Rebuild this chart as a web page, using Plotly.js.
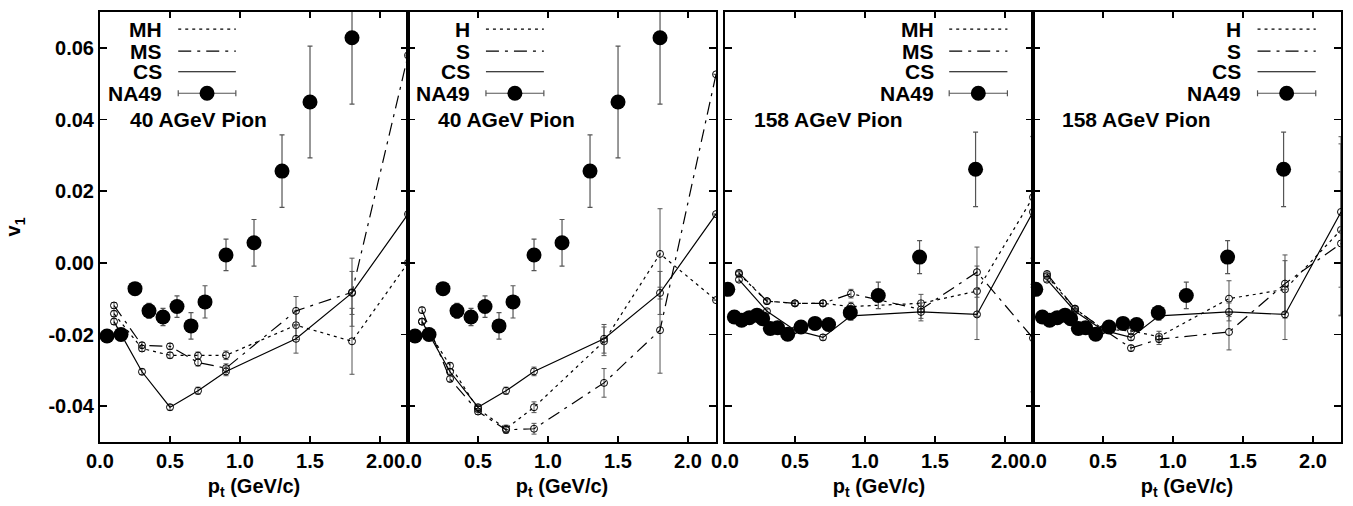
<!DOCTYPE html>
<html><head><meta charset="utf-8">
<script src="https://cdn.plot.ly/plotly-3.0.1.min.js"></script>
<style>html,body{margin:0;padding:0;background:#fff}#plot{width:1353px;height:506px}</style>
</head><body><div id="plot"></div>
<script>
// ---------- data ----------
const ptModel = [0.1, 0.3, 0.5, 0.7, 0.9, 1.4, 1.8, 2.2];

// 40 AGeV models
const MH40 = [-0.0142, -0.0239, -0.0258, -0.0259, -0.0258, -0.0174, -0.0219, 0.0000];
const MS40 = [-0.0119, -0.0230, -0.0233, -0.0278, -0.0294, -0.0134, -0.0082, 0.0579];
const CS40 = [-0.0164, -0.0304, -0.0403, -0.0357, -0.0303, -0.0212, -0.0084, 0.0136];
const H40  = [-0.0164, -0.0287, -0.0408, -0.0463, -0.0403, -0.0219, 0.0025, -0.0104];
const S40  = [-0.0132, -0.0324, -0.0415, -0.0466, -0.0463, -0.0335, -0.0188, 0.0526];
const errMH40 = [0.0008, 0.0008, 0.0008, 0.0010, 0.0012, 0.0040, 0.0092, 0];
const errMS40 = [0.0008, 0.0008, 0.0008, 0.0010, 0.0012, 0.0040, 0.0095, 0];
const errCS40 = [0.0008, 0.0008, 0.0008, 0.0010, 0.0012, 0.0040, 0.0060, 0];
const errH40  = [0.0008, 0.0008, 0.0008, 0.0010, 0.0015, 0.0040, 0.0126, 0];
const errS40  = [0.0008, 0.0008, 0.0008, 0.0010, 0.0015, 0.0040, 0.0120, 0];

// 158 AGeV models
const MH158 = [-0.0031, -0.0107, -0.0113, -0.0113, -0.0122, -0.0113, -0.0079, 0.0183];
const MS158 = [-0.0028, -0.0107, -0.0113, -0.0113, -0.0086, -0.0130, -0.0026, -0.0210];
const CS158 = [-0.0047, -0.0135, -0.0188, -0.0208, -0.0148, -0.0137, -0.0144, 0.0142];
const H158  = [-0.0037, -0.0128, -0.0185, -0.0190, -0.0206, -0.0100, -0.0074, 0.0092];
const S158  = [-0.0031, -0.0128, -0.0185, -0.0238, -0.0213, -0.0193, -0.0058, 0.0054];
const errMH158 = [0.0006, 0.0006, 0.0006, 0.0008, 0.0012, 0.0025, 0.0070, 0.0170];
const errMS158 = [0.0006, 0.0006, 0.0006, 0.0008, 0.0012, 0.0025, 0.0070, 0.0150];
const errCS158 = [0.0006, 0.0006, 0.0006, 0.0008, 0.0012, 0.0025, 0.0070, 0.0210];
const errH158  = [0.0006, 0.0006, 0.0006, 0.0008, 0.0015, 0.0050, 0.0080, 0.0240];
const errS158  = [0.0006, 0.0006, 0.0006, 0.0008, 0.0015, 0.0050, 0.0080, 0.0200];

// NA49 data
const na40Pt  = [0.05, 0.15, 0.25, 0.35, 0.45, 0.55, 0.65, 0.75, 0.9, 1.1, 1.3, 1.5, 1.8];
const na40V1  = [-0.0204, -0.0200, -0.0072, -0.0134, -0.0151, -0.0122, -0.0176, -0.0109, 0.0022, 0.0056, 0.0256, 0.0449, 0.0628];
const na40Err = [0.0015, 0.0012, 0.0012, 0.0021, 0.0024, 0.0030, 0.0037, 0.0045, 0.0044, 0.0065, 0.0101, 0.0156, 0.0185];

const na158Pt  = [0.02, 0.067, 0.119, 0.174, 0.229, 0.269, 0.324, 0.376, 0.448, 0.543, 0.643, 0.74, 0.895, 1.095, 1.39, 1.79];
const na158V1  = [-0.0074, -0.0151, -0.0160, -0.0153, -0.0146, -0.0156, -0.0183, -0.0181, -0.0199, -0.0179, -0.0169, -0.0172, -0.0139, -0.0091, 0.0016, 0.0261];
const na158Err = [0.0010, 0.0008, 0.0008, 0.0008, 0.0008, 0.0008, 0.0008, 0.0008, 0.0008, 0.0010, 0.0012, 0.0015, 0.0020, 0.0037, 0.0046, 0.0104];

const xTickVals = [0, 0.5, 1.0, 1.5, 2.0];
const xTickText = ['0.0', '0.5', '1.0', '1.5', '2.0'];
const yTickVals = [-0.04, -0.02, 0.0, 0.02, 0.04, 0.06];
const yTickText = ['-0.04', '-0.02', '0.00', '0.02', '0.04', '0.06'];

const panelNames = [
  ['MH', 'MS', 'CS', 'NA49'],
  ['H', 'S', 'CS', 'NA49'],
  ['MH', 'MS', 'CS', 'NA49'],
  ['H', 'S', 'CS', 'NA49']
];
const panelLabels = ['40 AGeV Pion', '40 AGeV Pion', '158 AGeV Pion', '158 AGeV Pion'];

// ---------- styles ----------
const DOT = '3px,4px';
const DASHDOT = '13px,6px,3px,6px';
const ERRC = '#555';
const FONT = 'Liberation Sans, Arial, Helvetica, sans-serif';

function modelTrace(y, err, dash, ax) {
  return {
    x: ptModel, y: y, type: 'scatter', mode: 'lines+markers',
    xaxis: 'x' + ax, yaxis: 'y' + ax, showlegend: false, cliponaxis: true,
    line: {color: '#000', width: 1.2, dash: dash},
    marker: {symbol: 'circle-open', size: 7, color: '#000', line: {width: 1, color: '#000'}},
    error_y: {type: 'data', array: err, visible: true, color: ERRC, thickness: 1, width: 2.5}
  };
}
function naTrace(x, y, err, ax) {
  return {
    x: x, y: y, type: 'scatter', mode: 'markers',
    xaxis: 'x' + ax, yaxis: 'y' + ax, showlegend: false,
    marker: {symbol: 'circle', size: 15, color: '#000'},
    error_y: {type: 'data', array: err, visible: true, color: ERRC, thickness: 1.2, width: 2.5}
  };
}

const traces = [
  modelTrace(MH40, errMH40, DOT, ''), modelTrace(MS40, errMS40, DASHDOT, ''), modelTrace(CS40, errCS40, 'solid', ''), naTrace(na40Pt, na40V1, na40Err, ''),
  modelTrace(H40, errH40, DOT, '2'), modelTrace(S40, errS40, DASHDOT, '2'), modelTrace(CS40, errCS40, 'solid', '2'), naTrace(na40Pt, na40V1, na40Err, '2'),
  modelTrace(MH158, errMH158, DOT, '3'), modelTrace(MS158, errMS158, DASHDOT, '3'), modelTrace(CS158, errCS158, 'solid', '3'), naTrace(na158Pt, na158V1, na158Err, '3'),
  modelTrace(H158, errH158, DOT, '4'), modelTrace(S158, errS158, DASHDOT, '4'), modelTrace(CS158, errCS158, 'solid', '4'), naTrace(na158Pt, na158V1, na158Err, '4')
];

const domains = [[0, 0.2482], [0.2482, 0.4964], [0.5036, 0.7518], [0.7518, 1.0]];

function xAxis(i) {
  return {
    domain: domains[i], range: [0, 2.2], anchor: i === 0 ? 'y' : 'y' + (i + 1),
    showline: true, linecolor: '#000', linewidth: 2, mirror: 'ticks',
    ticks: 'inside', ticklen: 6, tickwidth: 1.5, tickcolor: '#000',
    tickvals: xTickVals, ticktext: xTickText, showgrid: false, zeroline: false,
    tickfont: {size: 20, family: FONT, weight: 'bold', color: '#000'},
    title: {text: 'p<sub>t</sub> (GeV/c)', font: {size: 20, family: FONT, weight: 'bold', color: '#000'}, standoff: 8}
  };
}
function yAxis(i) {
  const ax = {
    domain: [0, 1], range: [-0.05, 0.07], anchor: i === 0 ? 'x' : 'x' + (i + 1),
    showline: true, linecolor: '#000', linewidth: 2, mirror: 'ticks',
    ticks: 'inside', ticklen: 7, tickwidth: 1.5, tickcolor: '#000',
    tickvals: yTickVals, ticktext: yTickText, showgrid: false, zeroline: false,
    showticklabels: i === 0,
    tickfont: {size: 20, family: FONT, weight: 'bold', color: '#000'}
  };
  if (i === 0) {
    ax.title = {text: 'v<sub>1</sub>', font: {size: 20, family: FONT, weight: 'bold', color: '#000'}, standoff: 22};
  }
  return ax;
}

// legend positions (fractions of each panel)
const legTextX = [0.208, 0.208, 0.684, 0.683];
const legLine0 = [0.254, 0.253, 0.728, 0.729];
const legLine1 = [0.441, 0.441, 0.917, 0.918];
const legRowsY = [0.960, 0.909, 0.861, 0.811];
const labelX = [0.320, 0.320, 0.337, 0.337];
const labelY = 0.750;

const shapes = [];
const annotations = [];
for (let i = 0; i < 4; i++) {
  const xr = (i === 0 ? 'x' : 'x' + (i + 1)) + ' domain';
  const yr = (i === 0 ? 'y' : 'y' + (i + 1)) + ' domain';
  const dashes = [DOT, DASHDOT, 'solid'];
  for (let r = 0; r < 4; r++) {
    annotations.push({
      xref: xr, yref: yr, x: legTextX[i], y: legRowsY[r], xanchor: 'right', yanchor: 'middle',
      text: panelNames[i][r], showarrow: false,
      font: {size: 21, family: FONT, weight: 'bold', color: '#000'}
    });
    if (r < 3) {
      shapes.push({type: 'line', xref: xr, yref: yr, x0: legLine0[i], x1: legLine1[i], y0: legRowsY[r], y1: legRowsY[r],
        line: {color: '#000', width: 1.2, dash: dashes[r]}});
    } else {
      shapes.push({type: 'line', xref: xr, yref: yr, x0: legLine0[i], x1: legLine1[i], y0: legRowsY[r], y1: legRowsY[r],
        line: {color: ERRC, width: 1.2}});
      [legLine0[i], legLine1[i]].forEach(function (xx) {
        shapes.push({type: 'line', xref: xr, yref: yr, xsizemode: 'scaled', ysizemode: 'pixel', yanchor: legRowsY[r],
          x0: xx, x1: xx, y0: -3, y1: 3, line: {color: ERRC, width: 1.2}});
      });
      const xm = (legLine0[i] + legLine1[i]) / 2;
      shapes.push({type: 'circle', xref: xr, yref: yr, xsizemode: 'pixel', ysizemode: 'pixel',
        xanchor: xm, yanchor: legRowsY[r], x0: -7.5, x1: 7.5, y0: -7.5, y1: 7.5,
        fillcolor: '#000', line: {color: '#000', width: 0}});
    }
  }
  annotations.push({
    xref: xr, yref: yr, x: labelX[i], y: labelY, xanchor: 'center', yanchor: 'middle',
    text: panelLabels[i], showarrow: false,
    font: {size: 21, family: FONT, weight: 'bold', color: '#000'}
  });
}

const layout = {
  width: 1353, height: 506,
  margin: {l: 100, r: 12, t: 12, b: 64},
  paper_bgcolor: '#fff', plot_bgcolor: '#fff',
  font: {family: FONT, weight: 'bold', color: '#000'},
  showlegend: false,
  xaxis: xAxis(0), xaxis2: xAxis(1), xaxis3: xAxis(2), xaxis4: xAxis(3),
  yaxis: yAxis(0), yaxis2: yAxis(1), yaxis3: yAxis(2), yaxis4: yAxis(3),
  shapes: shapes, annotations: annotations
};

Plotly.newPlot('plot', traces, layout, {staticPlot: true, displayModeBar: false});
</script>
</body></html>
